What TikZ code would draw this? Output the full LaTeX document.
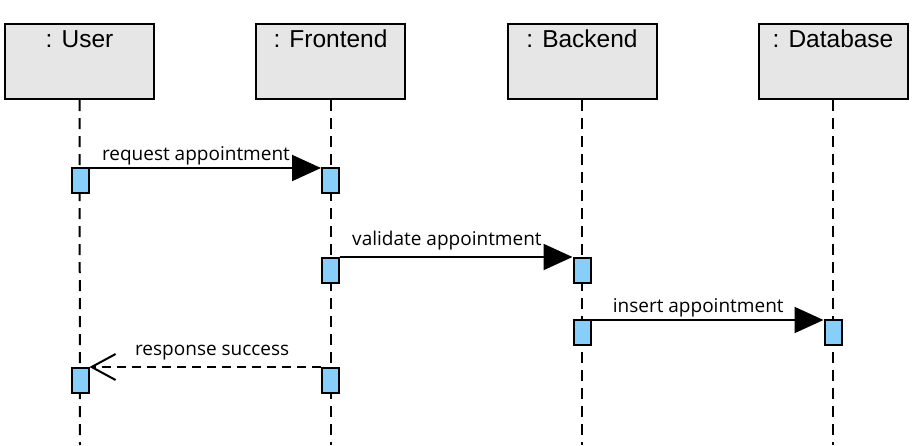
\documentclass[tikz,border=0pt]{standalone}
\usepackage{fontspec}
\setmainfont{Liberation Sans}
\newfontfamily\msgfont{Open Sans}
\usepackage{tikz}
\usetikzlibrary{arrows.meta}
\definecolor{headfill}{HTML}{E6E6E6}
\definecolor{actfill}{HTML}{87CEFA}

\begin{document}
\begin{tikzpicture}[x=1pt,y=-1pt,
  head/.style={draw,line width=2pt,fill=headfill,minimum width=149pt,
               inner sep=0pt,text height=23pt,text depth=52pt,
               font=\fontsize{24.5}{28}\selectfont},
  act/.style={draw,line width=2pt,fill=actfill,minimum width=17pt,
              minimum height=25pt,inner sep=0pt},
  life/.style={line width=2pt,dash pattern=on 11pt off 7pt},
  msg/.style={-{Triangle[length=29pt,width=26pt]},line width=2pt},
  ret/.style={-{Straight Barb[length=24pt,width=26pt]},line width=2pt,
              dash pattern=on 9pt off 6pt},
  lbl/.style={above,pos=0.46,inner sep=2pt,font=\msgfont\fontsize{19}{22}\selectfont}]
  \useasboundingbox (0,0) rectangle (912,445);
  % lifeline heads
  \node[head] (user) at (79.5,61.5) {: User};
  \node[head] (front) at (330.5,61.5) {: Frontend};
  \node[head] (back) at (582,61.5) {: Backend};
  \node[head] (db) at (833,61.5) {: Database};
  \coordinate (userend) at (80,445);
  \coordinate (frontend) at (330.5,445);
  \coordinate (backend) at (582,445);
  \coordinate (dbend) at (833,445);
  \draw[life] (user.south) -- (userend);
  \draw[life] (front.south) -- (frontend);
  \draw[life] (back.south) -- (backend);
  \draw[life] (db.south) -- (dbend);
  % activations
  \node[act] (ua1) at (80,180.5) {};
  \node[act] (fa1) at (330.5,180.5) {};
  \node[act] (fa2) at (330.5,270.5) {};
  \node[act] (ba1) at (582,270.5) {};
  \node[act] (ba2) at (582,332.5) {};
  \node[act] (da1) at (833,332.5) {};
  \node[act] (fa3) at (330.5,380.5) {};
  \node[act] (ua2) at (80,380.5) {};
  % messages
  \draw[msg] ([yshift=-1pt]ua1.north east) -- node[lbl]{request appointment} ([yshift=-1pt]fa1.north west);
  \draw[msg] (fa2.north east) -- node[lbl,yshift=4pt]{validate appointment} (ba1.north west);
  \draw[msg] ([yshift=-1pt]ba2.north east) -- node[lbl]{insert appointment} ([yshift=-1pt]da1.north west);
  \draw[ret] (fa3.north west) -- node[lbl,pos=0.47,yshift=4pt]{response success} (ua2.north east);
\end{tikzpicture}
\end{document}
